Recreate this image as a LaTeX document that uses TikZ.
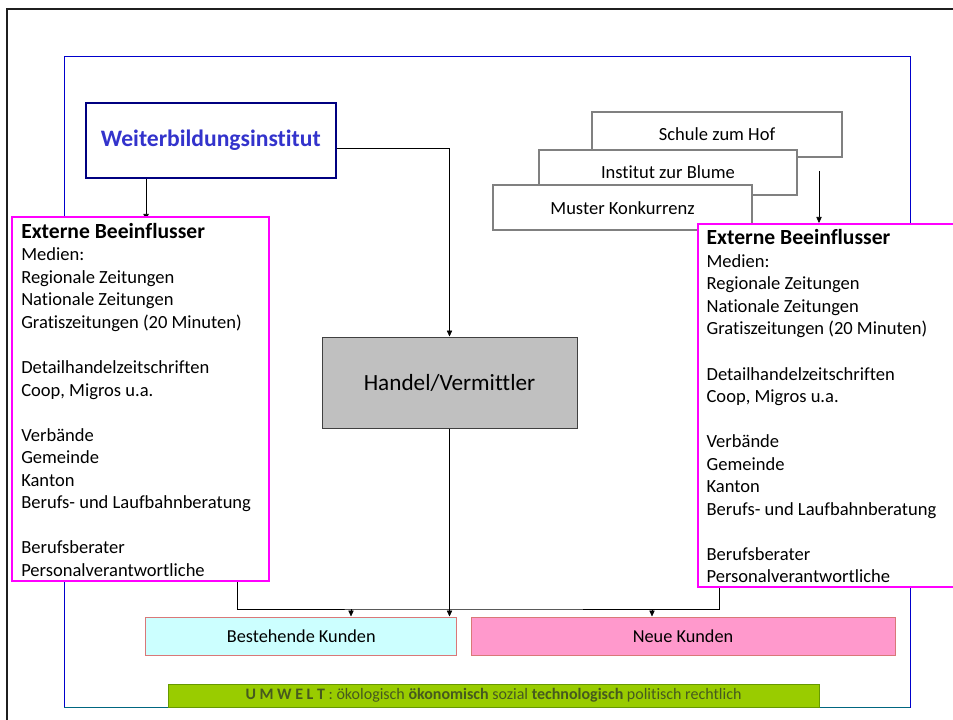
\documentclass[tikz,border=0pt]{standalone}
\usepackage{fontspec}
\setmainfont{Carlito}[Ligatures=CommonOff]
\usetikzlibrary{arrows.meta,backgrounds}

\definecolor{rahmenblau}{RGB}{0,0,204}
\definecolor{petrol}{RGB}{0,102,128}
\definecolor{marine}{RGB}{0,0,128}
\definecolor{titelblau}{RGB}{51,51,204}
\definecolor{pinkrand}{RGB}{255,0,255}
\definecolor{randgrau}{RGB}{128,128,128}
\definecolor{handelgrau}{RGB}{192,192,192}
\definecolor{hellcyan}{RGB}{204,255,255}
\definecolor{rosa}{RGB}{255,153,204}
\definecolor{randrot}{RGB}{217,120,120}
\definecolor{umweltgruen}{RGB}{153,204,0}
\definecolor{gruenrand}{RGB}{102,153,0}
\definecolor{olivtext}{RGB}{70,90,30}

\newcommand{\leerzeile}{\\[16.9pt]}
\newcommand{\einflussliste}{{\fontsize{16.2}{16.9}\selectfont\bfseries Externe Beeinflusser}\\ Medien:\\ Regionale Zeitungen\\ Nationale Zeitungen\\ Gratiszeitungen (20 Minuten)\leerzeile Detailhandelzeitschriften\\ Coop, Migros u.a.\leerzeile Verbände\\ Gemeinde\\ Kanton\\ Berufs- und Laufbahnberatung\leerzeile Berufsberater\\ Personalverantwortliche}

\begin{document}
\begin{tikzpicture}[x=0.75pt, y=-0.75pt, every node/.style={inner sep=0pt},
	pfeil/.style={-{Triangle[length=4.5pt,width=4pt]}},
	anbieterbox/.style={draw=marine, line width=1.5pt, fill=white, text=titelblau, font=\fontsize{17.7}{21}\selectfont\bfseries, minimum width=187.5pt, minimum height=56.25pt},
	handelbox/.style={draw=black!75, line width=0.75pt, fill=handelgrau, font=\fontsize{17.4}{21}\selectfont, minimum width=191.25pt, minimum height=68.25pt},
	konkurrenzbox/.style={draw=randgrau, line width=1.5pt, fill=white, font=\fontsize{13.9}{17}\selectfont, minimum height=33.75pt},
	einflussbox/.style={draw=pinkrand, line width=1.5pt, fill=white},
	listentext/.style={anchor=north west, align=left, font=\fontsize{13.9}{16.9}\selectfont},
	kundenbox/.style={draw=randrot, line width=0.75pt, font=\fontsize{13.7}{16}\selectfont, minimum height=28.5pt},
	umweltbox/.style={draw=gruenrand, line width=0.75pt, fill=umweltgruen, text=olivtext, font=\fontsize{12}{14}\selectfont, minimum width=488.25pt, minimum height=17.25pt}]
	\useasboundingbox (0,0) rectangle (953,720);
	% Rahmen
	\draw[line width=1.9pt, black!88] (7,720) -- (7,9) -- (953,9);
	\draw[rahmenblau, line width=0.75pt] (64,57) rectangle (910,707);
	\draw[petrol, line width=0.75pt] (64,707) -- (910,707);
	% Anbieter und Konkurrenz
	\node[anbieterbox] (weiter) at (210.7,140.5) {Weiterbildungsinstitut};
	\node[handelbox] (handel) at (449.5,382.5) {Handel/Vermittler};
	\foreach \name/\x/\y/\w/\t in {schule/717/134.5/187.5/Schule zum Hof, institut/668/172.5/193.5/Institut zur Blume, muster/622.5/208/194.25/Muster Konkurrenz}
		\node[konkurrenzbox, minimum width=\w pt] (\name) at (\x,\y) {\t};
	% Externe Beeinflusser
	\node[einflussbox, minimum width=192.75pt, minimum height=273pt] (einfl1) at (140.5,399) {};
	\node[einflussbox, minimum width=198pt, minimum height=272.25pt] (einfl2) at (830,405.5) {};
	\node[listentext] (liste1) at ([xshift=7.5pt,yshift=-5.2pt]einfl1.north west) {\einflussliste};
	\node[listentext] (liste2) at ([xshift=7pt,yshift=-4.8pt]einfl2.north west) {\einflussliste};
	% Kunden und Umwelt
	\node[kundenbox, fill=hellcyan, minimum width=232.9pt] (bestand) at (301.25,636) {Bestehende Kunden};
	\node[kundenbox, fill=rosa, minimum width=318pt] (neu) at (683,636) {Neue Kunden};
	\node[umweltbox] (umwelt) at (493.5,695.5) {\textbf{U M W E L T} : ökologisch \textbf{ökonomisch} sozial \textbf{technologisch} politisch rechtlich};
	% Verbindungen
	\coordinate (wfuss) at ([xshift=46pt]weiter.south west);
	\begin{pgfonlayer}{background}
		\draw[pfeil, shorten >=-3pt] (wfuss) -- (wfuss |- einfl1.north);
	\end{pgfonlayer}
	\draw[pfeil] ([yshift=-5.6pt]weiter.east) -| (handel.north);
	\coordinate (konk) at (819,171);
	\draw[pfeil] (konk) -- (konk |- einfl2.north);
	\draw[pfeil] (handel.south) -- (handel.south |- bestand.north);
	\coordinate (sammel) at (449.5,609);
	\coordinate (lfuss) at ([xshift=-24.75pt]einfl1.south east);
	\coordinate (rfuss) at ([xshift=16.5pt]einfl2.south west);
	\draw (lfuss) |- (sammel) -| (rfuss);
	\path (351,609) coordinate (pl) (652,609) coordinate (pr);
	\draw[pfeil] (pl) -- (pl |- bestand.north);
	\draw[pfeil] (pr) -- (pr |- neu.north);
\end{tikzpicture}
\end{document}
